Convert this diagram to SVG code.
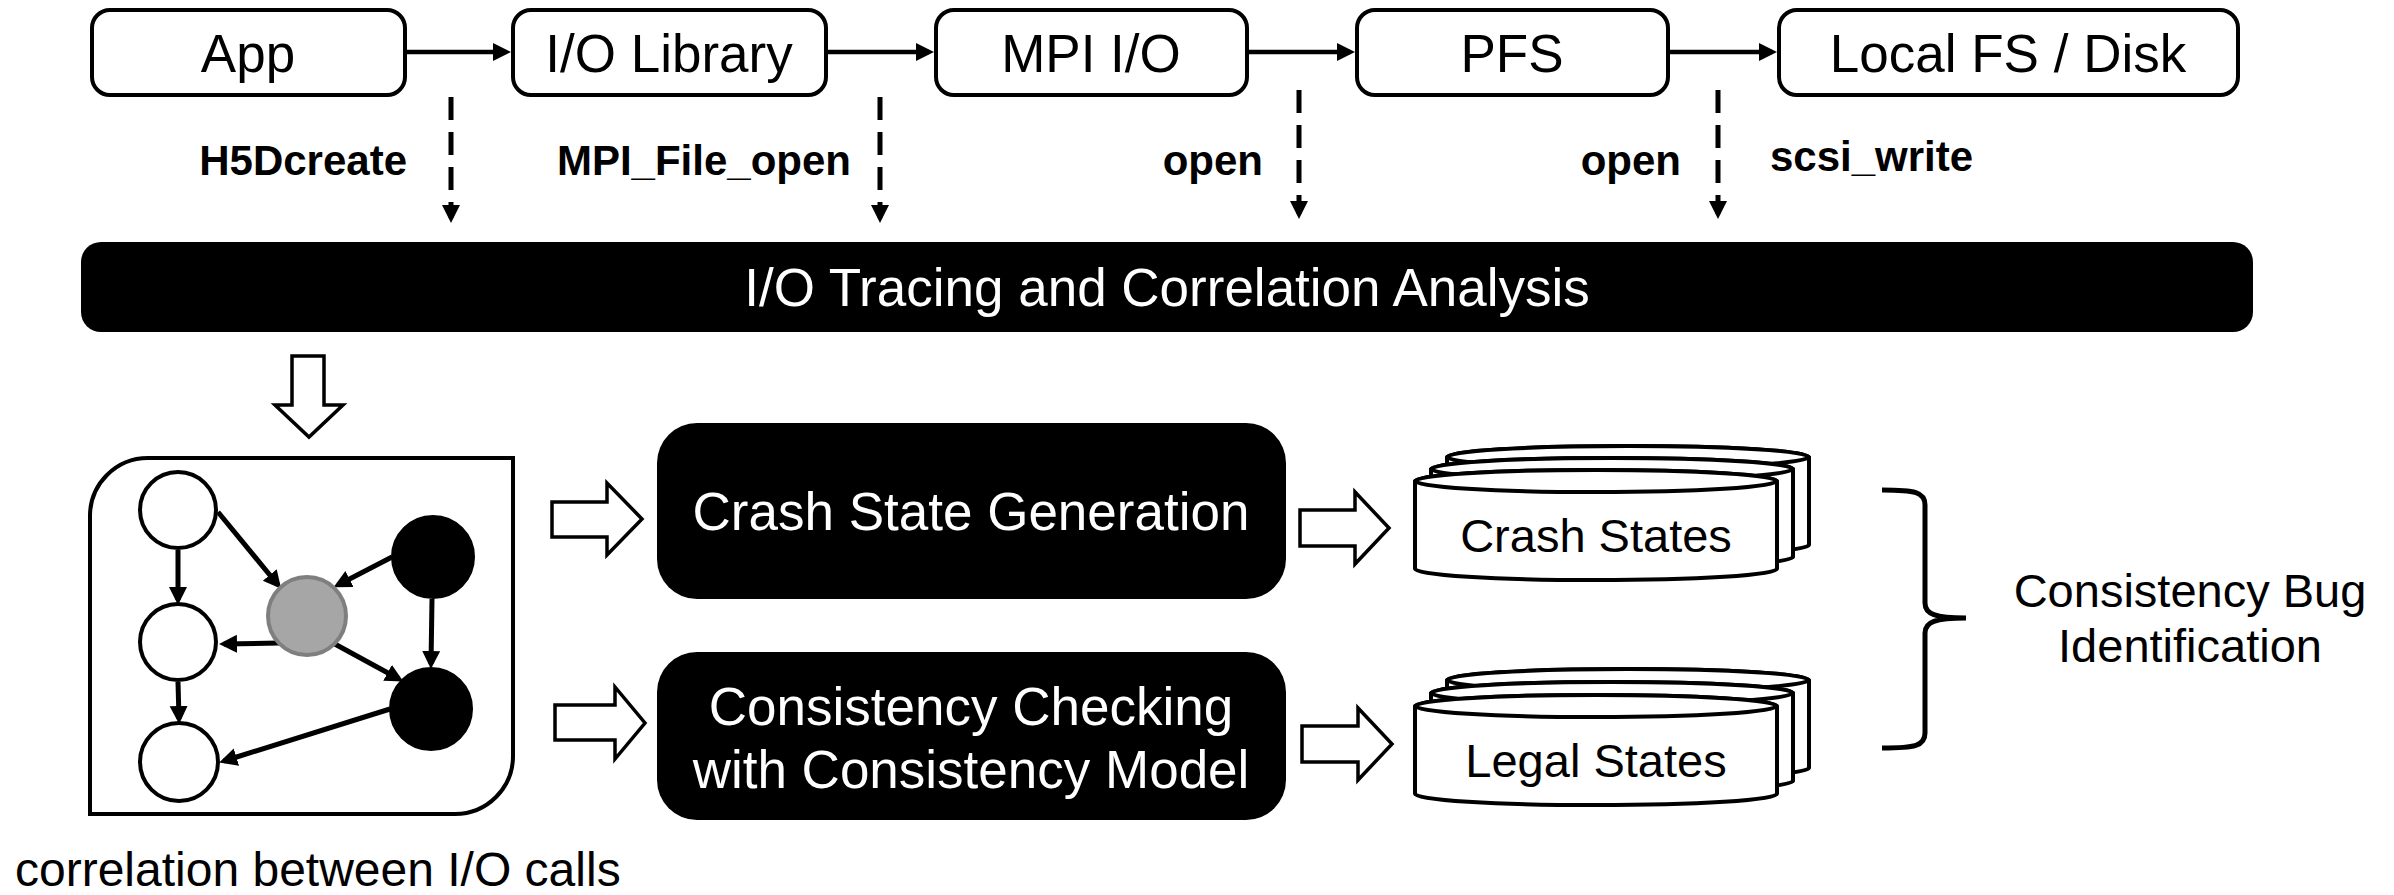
<svg xmlns="http://www.w3.org/2000/svg" width="2394" height="895" viewBox="0 0 2394 895">
  <style>
    .box { fill: #ffffff; stroke: #000000; stroke-width: 4; }
    .dark { fill: #000000; }
    .lbl { font-family: "Liberation Sans", Arial, sans-serif; font-size: 53px; fill: #000000; text-anchor: middle; }
    .wlbl { font-family: "Liberation Sans", Arial, sans-serif; font-size: 53px; fill: #ffffff; text-anchor: middle; }
    .mid { font-family: "Liberation Sans", Arial, sans-serif; font-size: 47px; fill: #000000; text-anchor: middle; }
    .call { font-family: "Liberation Sans", Arial, sans-serif; font-size: 42px; font-weight: bold; fill: #000000; }
    .flow { stroke: #000000; stroke-width: 4.5; fill: none; marker-end: url(#head); }
    .edge { stroke: #000000; stroke-width: 5; fill: none; marker-end: url(#head); }
    .dash { stroke: #000000; stroke-width: 5; fill: none; stroke-dasharray: 23 12; marker-end: url(#head); }
    .hollow { fill: #ffffff; stroke: #000000; stroke-width: 3.5; stroke-linejoin: miter; }
    .cyl { fill: #ffffff; stroke: #000000; stroke-width: 4; }
    .white-node { fill: #ffffff; stroke: #000000; stroke-width: 4; }
    .black-node { fill: #000000; stroke: #000000; stroke-width: 2; }
    .gray-node { fill: #a6a6a6; stroke: #7f7f7f; stroke-width: 4; }
  </style>
  <defs>
    <marker id="head" markerUnits="userSpaceOnUse" markerWidth="20" markerHeight="20" refX="13" refY="9" orient="auto">
      <path d="M0,0 L18,9 L0,18 Z" fill="#000000"/>
    </marker>
    <g id="cyl">
      <!-- cylinder centred on (0,0) top ellipse, body height 88 -->
      <path class="cyl" d="M-181,0 V88 A181,11 0 0 0 181,88 V0 A181,11 0 0 0 -181,0 Z"/>
      <ellipse class="cyl" cx="0" cy="0" rx="181" ry="11"/>
    </g>
  </defs>

  <rect width="2394" height="895" fill="#ffffff"/>

  <!-- I/O stack, top row -->
  <g id="app">
    <rect class="box" x="92" y="10" width="313" height="85" rx="18"/>
    <text class="lbl" x="248" y="72">App</text>
  </g>
  <g id="io-library">
    <rect class="box" x="513" y="10" width="313" height="85" rx="18"/>
    <text class="lbl" x="669" y="72">I/O Library</text>
  </g>
  <g id="mpi-io">
    <rect class="box" x="936" y="10" width="311" height="85" rx="18"/>
    <text class="lbl" x="1091" y="72">MPI I/O</text>
  </g>
  <g id="pfs">
    <rect class="box" x="1357" y="10" width="311" height="85" rx="18"/>
    <text class="lbl" x="1512" y="72">PFS</text>
  </g>
  <g id="local-fs">
    <rect class="box" x="1779" y="10" width="459" height="85" rx="18"/>
    <text class="lbl" x="2008" y="72">Local FS / Disk</text>
  </g>

  <!-- traced call names -->
  <g id="call-labels">
    <text class="call" x="407" y="175" text-anchor="end">H5Dcreate</text>
    <text class="call" x="851" y="175" text-anchor="end">MPI_File_open</text>
    <text class="call" x="1263" y="175" text-anchor="end">open</text>
    <text class="call" x="1681" y="175" text-anchor="end">open</text>
    <text class="call" x="1770" y="171">scsi_write</text>
  </g>

  <!-- tracing bar -->
  <g id="tracing">
    <rect class="dark" x="81" y="242" width="2172" height="90" rx="20"/>
    <text class="wlbl" x="1167" y="306">I/O Tracing and Correlation Analysis</text>
  </g>

  <!-- correlation graph -->
  <g id="correlation-graph">
    <path fill="#ffffff" stroke="#000000" stroke-width="4" d="M148,458 H513 V756 A58,58 0 0 1 455,814 H90 V516 A58,58 0 0 1 148,458 Z"/>
    <g id="graph-edges">
      <line class="edge" x1="178" y1="550" x2="178" y2="600"/>
      <line class="edge" x1="178" y1="682" x2="179" y2="719"/>
      <line class="edge" x1="218" y1="512" x2="278" y2="585"/>
      <line class="edge" x1="392" y1="557" x2="338" y2="585"/>
      <line class="edge" x1="432" y1="599" x2="431" y2="664"/>
      <line class="edge" x1="279" y1="643" x2="224" y2="644"/>
      <line class="edge" x1="333" y1="643" x2="399" y2="679"/>
      <line class="edge" x1="390" y1="709" x2="224" y2="761"/>
    </g>
    <circle id="node-a" class="white-node" cx="178" cy="510" r="38"/>
    <circle id="node-b" class="white-node" cx="178" cy="642" r="38"/>
    <circle id="node-c" class="white-node" cx="179" cy="762" r="39"/>
    <circle id="node-g" class="gray-node" cx="307" cy="616" r="39"/>
    <circle id="node-d" class="black-node" cx="433" cy="557" r="41"/>
    <circle id="node-e" class="black-node" cx="431" cy="709" r="41"/>
  </g>
  <text id="graph-caption" x="15" y="886" font-family="Liberation Sans, Arial, sans-serif" font-size="48" fill="#000000">correlation between I/O calls</text>

  <!-- processing stages -->
  <g id="crash-gen">
    <rect class="dark" x="657" y="423" width="629" height="176" rx="40"/>
    <text class="wlbl" x="971" y="530">Crash State Generation</text>
  </g>
  <g id="consistency-check">
    <rect class="dark" x="657" y="652" width="629" height="168" rx="40"/>
    <text class="wlbl" x="971" y="725">Consistency Checking</text>
    <text class="wlbl" x="971" y="788">with Consistency Model</text>
  </g>

  <!-- state stores -->
  <g id="crash-states">
    <use href="#cyl" x="1628" y="457"/>
    <use href="#cyl" x="1612" y="469"/>
    <use href="#cyl" x="1596" y="481"/>
    <text class="mid" x="1596" y="552">Crash States</text>
  </g>
  <g id="legal-states">
    <use href="#cyl" x="1628" y="680"/>
    <use href="#cyl" x="1612" y="693"/>
    <use href="#cyl" x="1596" y="706"/>
    <text class="mid" x="1596" y="777">Legal States</text>
  </g>

  <!-- result -->
  <g id="bug-identification">
    <path fill="none" stroke="#000000" stroke-width="5" d="M1882,490 C1915,490 1925,492 1925,505 L1925,603 C1925,614 1935,618 1966,618 C1935,618 1925,622 1925,633 L1925,733 C1925,746 1915,748 1882,748"/>
    <text class="mid" x="2190" y="607">Consistency Bug</text>
    <text class="mid" x="2190" y="662">Identification</text>
  </g>

  <!-- connectors -->
  <g id="connectors">
    <line class="flow" x1="407" y1="52" x2="506" y2="52"/>
    <line class="flow" x1="828" y1="52" x2="929" y2="52"/>
    <line class="flow" x1="1248" y1="52" x2="1350" y2="52"/>
    <line class="flow" x1="1669" y1="52" x2="1772" y2="52"/>

    <line class="dash" x1="451" y1="97" x2="451" y2="218"/>
    <line class="dash" x1="880" y1="97" x2="880" y2="218"/>
    <line class="dash" x1="1299" y1="90" x2="1299" y2="214"/>
    <line class="dash" x1="1718" y1="90" x2="1718" y2="214"/>

    <polygon class="hollow" points="292,356 324,356 324,405 343,405 309,437 275,405 292,405"/>
    <polygon class="hollow" points="552,502 607,502 607,483 642,519 607,555 607,537 552,537"/>
    <polygon class="hollow" points="555,705 615,705 615,687 645,723 615,759 615,740 555,740"/>
    <polygon class="hollow" points="1300,510 1355,510 1355,492 1389,528 1355,564 1355,546 1300,546"/>
    <polygon class="hollow" points="1302,726 1358,726 1358,708 1392,744 1358,780 1358,762 1302,762"/>
  </g>
</svg>
